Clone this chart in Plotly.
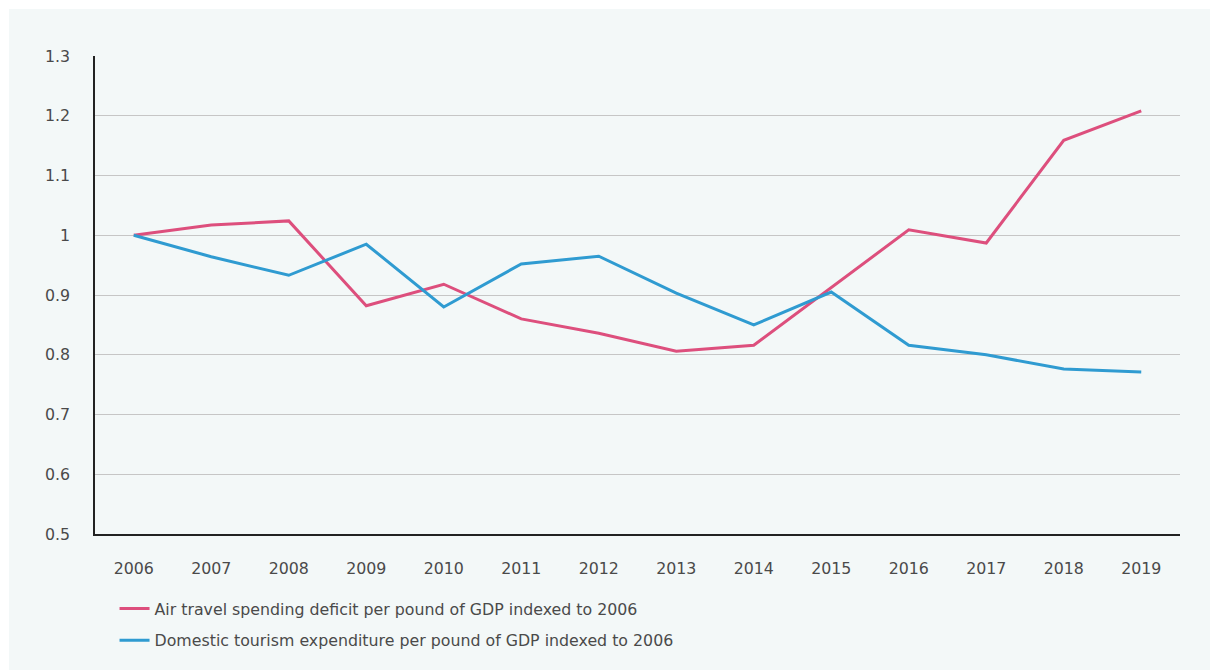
import plotly.graph_objects as go

years = ["2006", "2007", "2008", "2009", "2010", "2011", "2012",
         "2013", "2014", "2015", "2016", "2017", "2018", "2019"]
air_travel_deficit = [1.000, 1.017, 1.024, 0.882, 0.918, 0.860, 0.836,
                      0.806, 0.816, 0.913, 1.009, 0.987, 1.159, 1.208]
domestic_tourism = [1.000, 0.964, 0.933, 0.985, 0.880, 0.952, 0.965,
                    0.903, 0.850, 0.905, 0.816, 0.800, 0.776, 0.771]
y_ticks = [0.5, 0.6, 0.7, 0.8, 0.9, 1.0, 1.1, 1.2, 1.3]
y_tick_text = ["0.5", "0.6", "0.7", "0.8", "0.9", "1", "1.1", "1.2", "1.3"]

PINK = "#dd4f7d"
BLUE = "#2f9bd1"
PANEL = "#f3f8f8"
TEXT = "#4a4a4a"
FONT = "DejaVu Sans, Open Sans, sans-serif"
FSIZE = 15.8

fig = go.Figure()
fig.add_trace(go.Scatter(
    x=years, y=air_travel_deficit, mode="lines",
    name="Air travel spending deficit per pound of GDP indexed to 2006",
    line=dict(color=PINK, width=3), legendgroup="a",
))
fig.add_trace(go.Scatter(
    x=years, y=domestic_tourism, mode="lines",
    name="Domestic tourism expenditure per pound of GDP indexed to 2006",
    line=dict(color=BLUE, width=3), legendgroup="b",
))

L, R, T, B = 95, 30, 56, 136
W, H = 1210, 670
pw, ph = W - L - R, H - T - B

# tinted panel inset from the page edge
fig.add_shape(
    type="rect", xref="paper", yref="paper", layer="below",
    x0=(9 - L) / pw, x1=(W - L) / pw,
    y0=-(H - T - ph) / ph - 0.001, y1=(ph + T - 9) / ph,
    fillcolor=PANEL, line=dict(width=0),
)

fig.update_layout(
    width=W, height=H,
    margin=dict(l=L, r=R, t=T, b=B),
    paper_bgcolor="white",
    plot_bgcolor="rgba(0,0,0,0)",
    font=dict(family=FONT, size=FSIZE, color=TEXT),
    showlegend=True,
    legend=dict(
        orientation="v", x=0.018, xanchor="left",
        y=-0.121, yanchor="top",
        traceorder="grouped", tracegroupgap=8,
        bgcolor="rgba(0,0,0,0)", itemwidth=30,
        font=dict(family=FONT, size=FSIZE, color=TEXT),
    ),
)
fig.update_xaxes(
    type="category", range=[-0.5, 13.5],
    showgrid=False, showline=True, linecolor="#222222", linewidth=1.5,
    ticks="outside", ticklen=19, tickcolor="rgba(0,0,0,0)",
    tickfont=dict(family=FONT, size=FSIZE, color=TEXT),
)
fig.update_yaxes(
    range=[0.5, 1.3], tickvals=y_ticks, ticktext=y_tick_text,
    showgrid=True, gridcolor="#c6c6c6", gridwidth=1,
    showline=True, linecolor="#222222", linewidth=1.5,
    zeroline=False,
    ticks="outside", ticklen=20, tickcolor="rgba(0,0,0,0)",
    tickfont=dict(family=FONT, size=FSIZE, color=TEXT),
)

fig.write_html("out.html")
